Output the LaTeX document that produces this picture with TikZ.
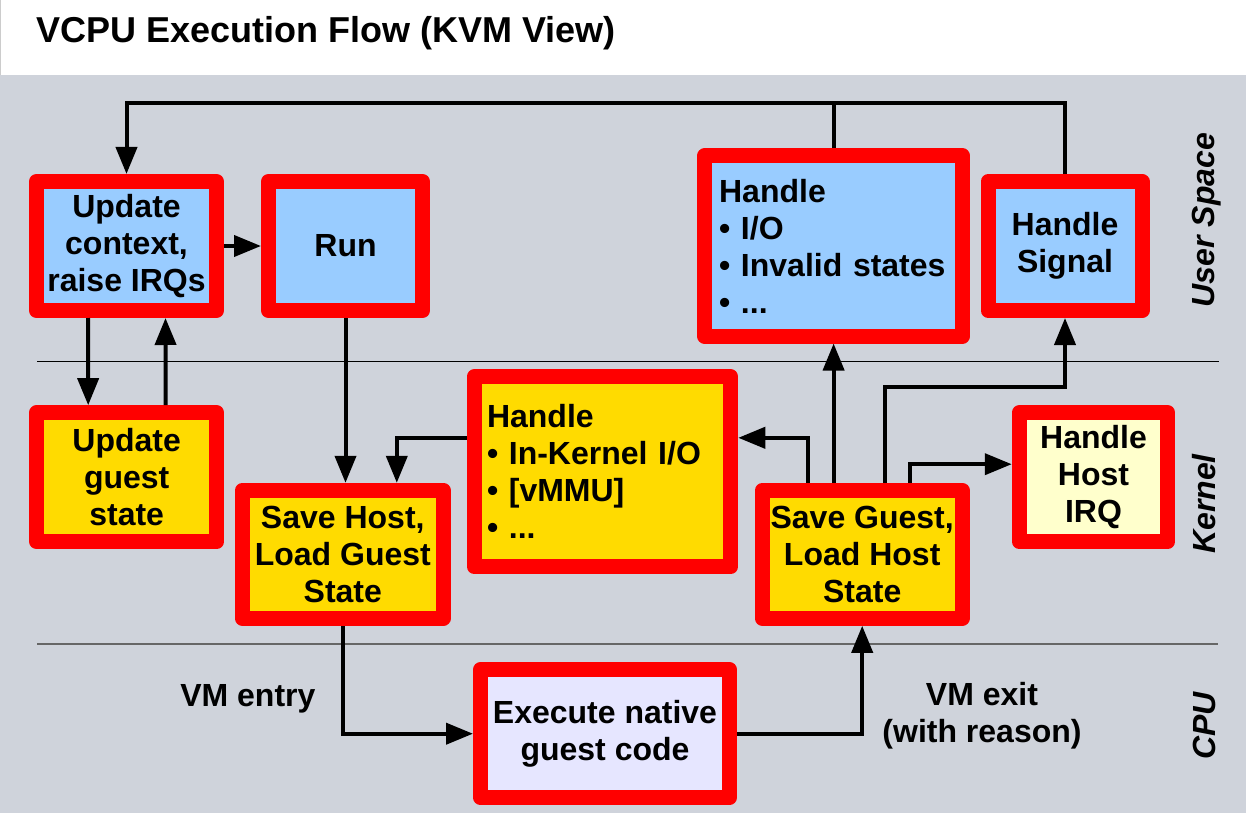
\documentclass[tikz,border=0pt]{standalone}
\usepackage{fontspec}
\setmainfont{Liberation Sans}
\usetikzlibrary{arrows.meta}
\definecolor{bgc}{HTML}{CFD3DB}
\definecolor{ublue}{HTML}{99CCFF}
\definecolor{kyel}{HTML}{FFDB00}
\definecolor{pyel}{HTML}{FFFFCC}
\definecolor{lav}{HTML}{E6E6FF}
\newcommand\myboxfont{\fontsize{32pt}{37pt}\selectfont\bfseries}
\newcommand\mysidefont{\fontsize{32pt}{37pt}\selectfont\bfseries\itshape}
\begin{document}
\begin{tikzpicture}[x=1pt,y=-1pt,
  box/.style={draw=red, line width=15pt, line join=round, inner sep=0pt, align=center, font=\myboxfont},
  ln/.style={line width=4pt},
  arr/.style={line width=4pt, -{Triangle[length=27pt,width=21pt]}},
  lbl/.style={font=\myboxfont, inner sep=0pt},
  side/.style={font=\mysidefont, inner sep=0pt, rotate=90, anchor=base}]
\useasboundingbox (0,0) rectangle (1246,813);
\fill[white] (0,0) rectangle (1246,75);
\fill[bgc] (0,75) rectangle (1246,813);
\draw[gray!40, line width=1pt] (0.5,0) -- (0.5,75);
\node[anchor=base west, inner sep=0pt, font=\fontsize{36pt}{42pt}\selectfont\bfseries] (title) at (36,43) {VCPU Execution Flow (KVM View)};
% separators
\draw[black, line width=1pt] (37,361.3) -- (1219,361.3);
\draw[black!60, line width=1.5pt] (37,644) -- (1218,644);
% boxes
\node[box, fill=ublue, minimum width=180pt, minimum height=129pt] (A) at (126.5,246) {Update\\context,\\raise IRQs};
\node[box, fill=ublue, minimum width=154pt, minimum height=129pt] (B) at (345.5,246) {Run};
\node[box, fill=ublue, minimum width=258pt, minimum height=180pt, text width=229pt, align=left] (C) at (833.6,246) {Handle\\• I/O\\• Invalid states\\• ...};
\node[box, fill=ublue, minimum width=154pt, minimum height=129pt] (D) at (1065,246) {Handle\\Signal};
\node[box, fill=kyel, minimum width=180pt, minimum height=129pt] (E) at (126.7,477.2) {Update\\guest\\state};
\node[box, fill=kyel, minimum width=201pt, minimum height=128pt] (F) at (342.8,554.3) {Save Host,\\Load Guest\\State};
\node[box, fill=kyel, minimum width=256.5pt, minimum height=190pt, text width=231pt, align=left] (G) at (602.5,471.8) {Handle\\• In-Kernel I/O\\• [vMMU]\\• ...};
\node[box, fill=kyel, minimum width=200pt, minimum height=128pt] (H) at (862.2,554.3) {Save Guest,\\Load Host\\State};
\node[box, fill=pyel, minimum width=148.5pt, minimum height=129pt] (I) at (1093.5,477.2) {Handle\\Host\\IRQ};
\node[box, fill=lav, minimum width=249pt, minimum height=128pt] (J) at (605,733.7) {Execute native\\guest code};
% labels
\node[lbl, anchor=base] (entry) at (247.9,706) {VM entry};
\node[lbl, align=center] (exit) at (982,716) {VM exit\\(with reason)};
\node[side] (us) at (1214,220) {User Space};
\node[side] (ker) at (1215,504) {Kernel};
\node[side] (cpu) at (1215,726) {CPU};
% connectors
\coordinate (tl) at (126.5,103.3);
\draw[arr] (D.north) |- (tl) -- (A.north);
\draw[ln] (C.north) -- (C.north |- tl);
\draw[arr] (A.east) -- (B.west);
\draw[arr] ([xshift=-38.5pt]A.south) -- ([xshift=-38.5pt]E.north);
\draw[arr] ([xshift=39pt]E.north) -- ([xshift=39pt]A.south);
\draw[arr] (B.south) -- (B.south |- F.north);
\draw[arr] ([yshift=33.5pt]G.west) -| ([xshift=54pt]F.north);
\draw[arr] ([xshift=-54pt]H.north) |- ([yshift=34pt]G.east);
\draw[arr] (C.south |- H.north) -- (C.south);
\draw[arr] ([xshift=23pt]H.north) -- ++(0,-96) -| (D.south);
\draw[arr] ([xshift=48pt]H.north) |- ([yshift=13pt]I.west);
\draw[arr] (F.south) |- (J.west);
\draw[arr] (J.east) -| (H.south);
\end{tikzpicture}
\end{document}
